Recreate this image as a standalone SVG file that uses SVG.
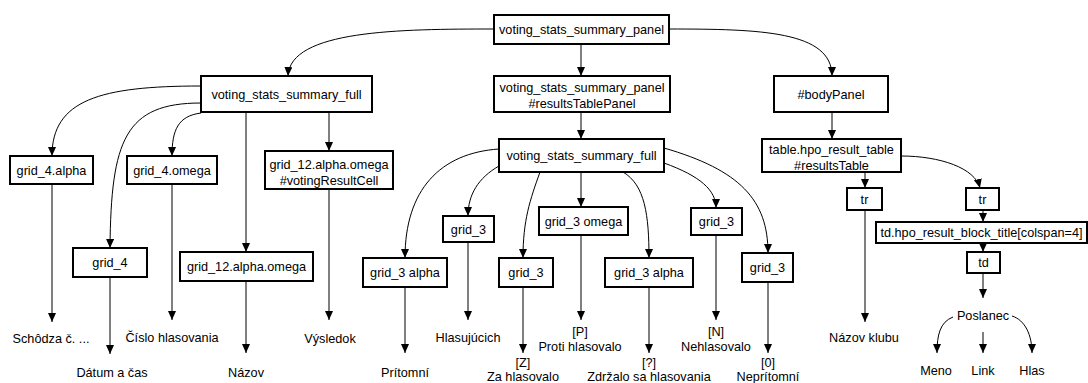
<svg xmlns="http://www.w3.org/2000/svg" width="1088" height="383" viewBox="0 0 1088 383">
<style>
  .box { fill: #ffffff; stroke: #000000; stroke-width: 2; }
  .t { font-family: "Liberation Sans", Arial, sans-serif; font-size: 12.7px; fill: #000000; text-anchor: middle; }
  .e { fill: none; stroke: #000000; stroke-width: 1; marker-end: url(#ah); }
</style>
<defs>
  <marker id="ah" markerWidth="10" markerHeight="10" refX="9" refY="4" orient="auto" markerUnits="userSpaceOnUse">
    <path d="M0,0 L9,4 L0,8 Z" fill="#000000"/>
  </marker>
</defs>
<rect width="1088" height="383" fill="#ffffff"/>

<g id="connectors">
  <path class="e" d="M494,29 C400,29 290,30 288,76"/>
  <path class="e" d="M669,29 C760,29 832,31 832,76"/>
  <path class="e" d="M581,44 L581,76"/>
  <path class="e" d="M581,112 L581,139"/>
  <path class="e" d="M832,112 L832,139"/>
  <!-- left vssf -->
  <path class="e" d="M201,86 C100,86 52,100 52,156"/>
  <path class="e" d="M201,103 C125,103 111,140 110,248"/>
  <path class="e" d="M201,113 C178,116 172,130 172,156"/>
  <path class="e" d="M246,112 L246,252"/>
  <path class="e" d="M329,112 L329,151"/>
  <path class="e" d="M52,184 L52,322"/>
  <path class="e" d="M110,277 L110,354"/>
  <path class="e" d="M172,184 L172,320"/>
  <path class="e" d="M246,281 L246,353"/>
  <path class="e" d="M329,189 L329,320"/>
  <!-- middle vssf -->
  <path class="e" d="M499,149 C440,153 405,190 405,258"/>
  <path class="e" d="M499,166 C478,178 468,195 468,216"/>
  <path class="e" d="M540,172 C530,200 523,220 523,258"/>
  <path class="e" d="M581,172 L581,207"/>
  <path class="e" d="M623,172 C645,185 649,215 649,258"/>
  <path class="e" d="M664,163 C700,176 716,190 716,208"/>
  <path class="e" d="M664,148 C740,170 768,200 768,253"/>
  <path class="e" d="M405,287 L405,353"/>
  <path class="e" d="M468,242 L468,320"/>
  <path class="e" d="M523,287 L523,353"/>
  <path class="e" d="M581,235 L581,320"/>
  <path class="e" d="M649,287 L649,353"/>
  <path class="e" d="M716,235 L716,320"/>
  <path class="e" d="M768,282 L768,353"/>
  <!-- right -->
  <path class="e" d="M865,172 L865,188"/>
  <path class="e" d="M901,156 C940,156 975,168 980,188"/>
  <path class="e" d="M983,210 L983,222"/>
  <path class="e" d="M983,243 L983,252"/>
  <path class="e" d="M983,273 L983,298"/>
  <path class="e" d="M865,210 L865,322"/>
  <path class="e" d="M953,317 C940,322 937,335 937,353"/>
  <path class="e" d="M983,332 L983,353"/>
  <path class="e" d="M1012,316 C1025,320 1032,335 1032,353"/>
</g>

<g id="n_panel"><rect class="box" x="494" y="15" width="175" height="29"/><text class="t" x="581.5" y="34">voting_stats_summary_panel</text></g>
<g id="n_full_left"><rect class="box" x="201" y="76" width="171" height="36"/><text class="t" x="286.5" y="98.5">voting_stats_summary_full</text></g>
<g id="n_resultsTablePanel"><rect class="box" x="494" y="76" width="176" height="36"/><text class="t" x="582" y="91.5">voting_stats_summary_panel</text><text class="t" x="582" y="107.5">#resultsTablePanel</text></g>
<g id="n_bodyPanel"><rect class="box" x="774" y="76" width="114" height="36"/><text class="t" x="831" y="98.5">#bodyPanel</text></g>
<g id="n_full_mid"><rect class="box" x="499" y="139" width="165" height="33"/><text class="t" x="581.5" y="160">voting_stats_summary_full</text></g>
<g id="n_table"><rect class="box" x="762" y="139" width="139" height="33"/><text class="t" x="831.5" y="153.5">table.hpo_result_table</text><text class="t" x="831.5" y="169.5">#resultsTable</text></g>
<g id="n_grid4alpha"><rect class="box" x="10" y="156" width="83" height="28"/><text class="t" x="51.5" y="174.5">grid_4.alpha</text></g>
<g id="n_grid4omega"><rect class="box" x="127" y="156" width="90" height="28"/><text class="t" x="172" y="174.5">grid_4.omega</text></g>
<g id="n_votingResultCell"><rect class="box" x="265" y="151" width="128" height="38"/><text class="t" x="329" y="168.5">grid_12.alpha.omega</text><text class="t" x="329" y="184.5">#votingResultCell</text></g>
<g id="n_grid4"><rect class="box" x="73" y="248" width="74" height="29"/><text class="t" x="110" y="267">grid_4</text></g>
<g id="n_grid12"><rect class="box" x="180" y="252" width="133" height="29"/><text class="t" x="246.5" y="271">grid_12.alpha.omega</text></g>
<g id="n_g3alpha1"><rect class="box" x="363" y="258" width="84" height="29"/><text class="t" x="405" y="277">grid_3 alpha</text></g>
<g id="n_g3a"><rect class="box" x="443" y="216" width="51" height="26"/><text class="t" x="468.5" y="233.5">grid_3</text></g>
<g id="n_g3z"><rect class="box" x="499" y="258" width="54" height="29"/><text class="t" x="526" y="277">grid_3</text></g>
<g id="n_g3omega"><rect class="box" x="539" y="207" width="89" height="28"/><text class="t" x="583.5" y="225.5">grid_3 omega</text></g>
<g id="n_g3alpha2"><rect class="box" x="605" y="258" width="88" height="29"/><text class="t" x="649" y="277">grid_3 alpha</text></g>
<g id="n_g3n"><rect class="box" x="691" y="208" width="51" height="27"/><text class="t" x="716.5" y="226">grid_3</text></g>
<g id="n_g30"><rect class="box" x="742" y="253" width="51" height="29"/><text class="t" x="767.5" y="272">grid_3</text></g>
<g id="n_tr1"><rect class="box" x="847" y="188" width="35" height="22"/><text class="t" x="864.5" y="203.5">tr</text></g>
<g id="n_tr2"><rect class="box" x="966" y="188" width="33" height="22"/><text class="t" x="982.5" y="203.5">tr</text></g>
<g id="n_tdtitle"><rect class="box" x="876" y="222" width="211" height="21"/><text class="t" x="981.5" y="237">td.hpo_result_block_title[colspan=4]</text></g>
<g id="n_td"><rect class="box" x="967" y="252" width="33" height="21"/><text class="t" x="983.5" y="267">td</text></g>

<g id="leaves">
  <text class="t" x="51" y="342.5">Schôdza č. ...</text>
  <text class="t" x="172" y="341.5">Číslo hlasovania</text>
  <text class="t" x="330" y="342.5">Výsledok</text>
  <text class="t" x="112" y="376.5">Dátum a čas</text>
  <text class="t" x="246" y="376.5">Názov</text>
  <text class="t" x="468" y="341.5">Hlasujúcich</text>
  <text class="t" x="405" y="376.5">Prítomní</text>
  <text class="t" x="580" y="336">[P]</text>
  <text class="t" x="580" y="350.5">Proti hlasovalo</text>
  <text class="t" x="716" y="336">[N]</text>
  <text class="t" x="716" y="350.5">Nehlasovalo</text>
  <text class="t" x="523" y="367">[Z]</text>
  <text class="t" x="523" y="380.5">Za hlasovalo</text>
  <text class="t" x="649" y="367">[?]</text>
  <text class="t" x="649" y="380.5">Zdržalo sa hlasovania</text>
  <text class="t" x="768" y="367">[0]</text>
  <text class="t" x="768" y="380.5">Neprítomní</text>
  <text class="t" x="864" y="341.5">Názov klubu</text>
  <text class="t" x="983" y="319.5">Poslanec</text>
  <text class="t" x="936" y="374.5">Meno</text>
  <text class="t" x="983" y="374.5">Link</text>
  <text class="t" x="1032" y="374.5">Hlas</text>
</g>
</svg>
